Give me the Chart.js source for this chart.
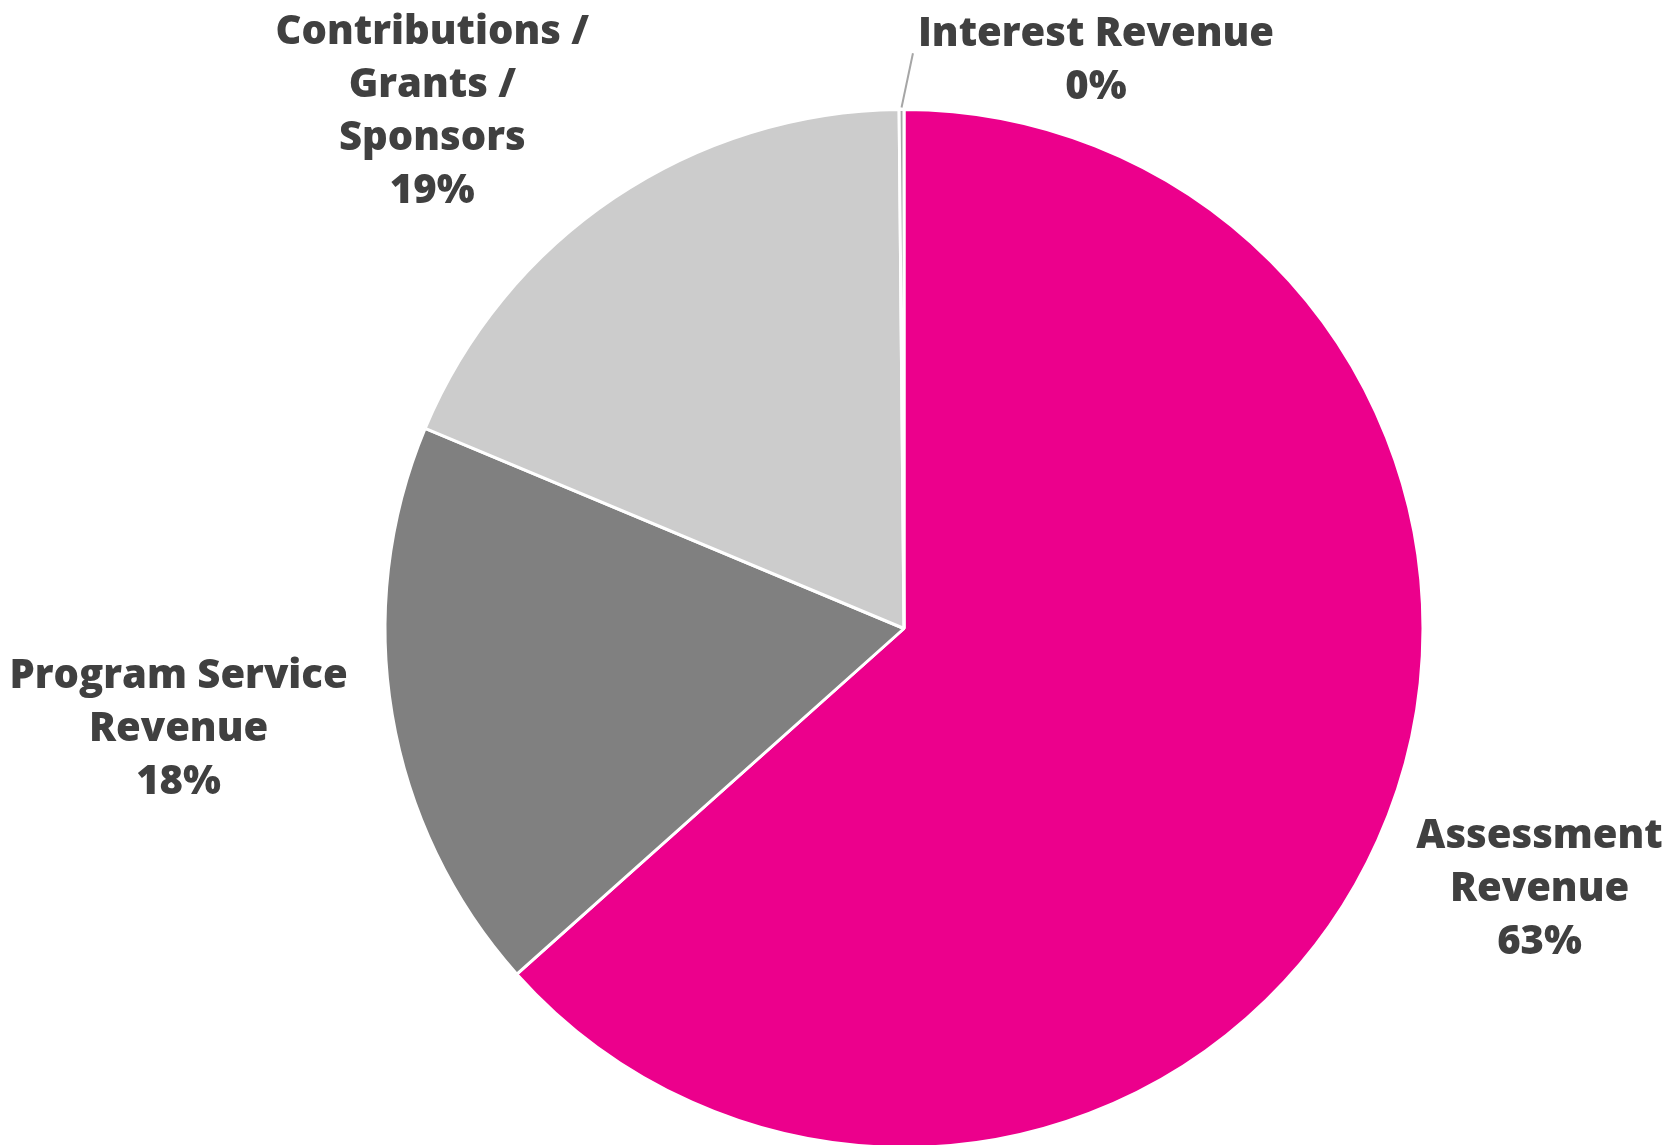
<!DOCTYPE html>
<html>
<head>
<meta charset="utf-8">
<script src="https://cdn.jsdelivr.net/npm/chart.js@4/dist/chart.umd.min.js"></script>
<style>
  html, body { margin: 0; padding: 0; background: #fff; overflow: hidden; }
  canvas { display: block; }
</style>
</head>
<body>
<canvas id="revenueChart" width="1677" height="1150"></canvas>
<script>
// revenue mix, percent of total
const categories = ['Assessment Revenue', 'Program Service Revenue', 'Contributions / Grants / Sponsors', 'Interest Revenue'];
const labelLines = [['Assessment', 'Revenue'], ['Program Service', 'Revenue'], ['Contributions /', 'Grants /', 'Sponsors'], ['Interest Revenue']];
const shares = [63.4, 17.9, 18.55, 0.15];
const sliceColors = ['#EC008C', '#808080', '#CCCCCC', '#A6A6A6'];

// where each label sits: [distance in radii, angle nudge in degrees]
const labelPlace = [[1.32, -2.2], [1.41, 2.0], [1.355, -8.2], [1.164, 18.8]];

const outsideLabels = {
    id: 'outsideLabels',
    afterDatasetsDraw(chart) {
        const ctx = chart.ctx;
        const meta = chart.getDatasetMeta(0);
        const total = shares.reduce((a, b) => a + b, 0);
        const lineH = 53;
        ctx.save();
        ctx.font = '800 40px "Open Sans", Roboto, sans-serif';
        ctx.fillStyle = '#404040';
        ctx.textAlign = 'center';
        ctx.textBaseline = 'middle';
        meta.data.forEach((arc, i) => {
            const { x, y, startAngle, endAngle, outerRadius } = arc.getProps(['x', 'y', 'startAngle', 'endAngle', 'outerRadius'], true);
            const mid = (startAngle + endAngle) / 2;
            const [k, nudge] = labelPlace[i];
            const a = mid + nudge * Math.PI / 180;
            const lx = x + Math.cos(a) * outerRadius * k;
            const ly = y + Math.sin(a) * outerRadius * k;
            const lines = labelLines[i].concat([Math.round(shares[i] / total * 100) + '%']);
            const top = ly - (lines.length - 1) * lineH / 2;
            lines.forEach((t, j) => ctx.fillText(t, lx, top + j * lineH + 5));

            // leader line for the thin slice
            if (i === 3) {
                const w = ctx.measureText(lines[0]).width;
                ctx.strokeStyle = '#A6A6A6';
                ctx.lineWidth = 2;
                ctx.beginPath();
                ctx.moveTo(x + Math.cos(mid) * (outerRadius + 2), y + Math.sin(mid) * (outerRadius + 2));
                ctx.lineTo(lx - w / 2 - 5, top + 24);
                ctx.stroke();
            }
        });
        ctx.restore();
    }
};

const ctx = document.getElementById('revenueChart').getContext('2d');
const revenueChart = new Chart(ctx, {
    type: 'pie',
    data: {
        labels: categories,
        datasets: [{
            data: shares,
            backgroundColor: sliceColors,
            borderColor: '#ffffff',
            borderWidth: 3
        }]
    },
    options: {
        responsive: false,
        animation: false,
        layout: { padding: { top: 108, bottom: 1, left: 354, right: 223 } },
        plugins: {
            legend: { display: false },
            tooltip: { enabled: false }
        }
    },
    plugins: [outsideLabels]
});
</script>
</body>
</html>
